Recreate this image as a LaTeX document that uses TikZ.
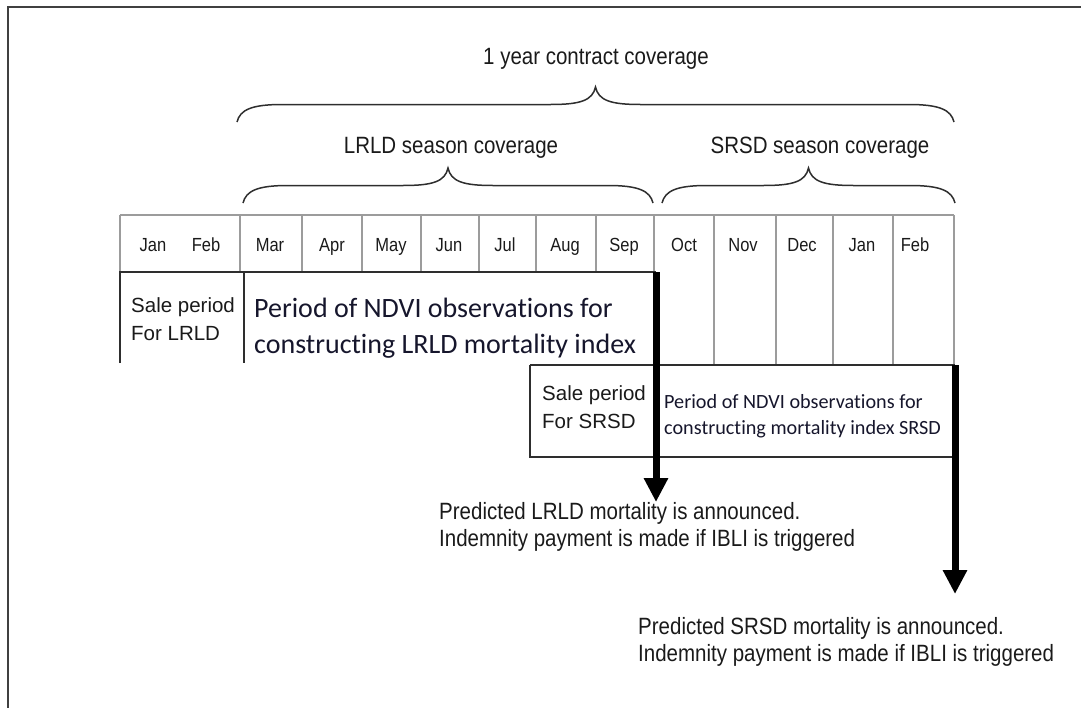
\documentclass[tikz,border=0pt]{standalone}
\usepackage{graphicx}
\usepackage{fontspec}
\setmainfont{Liberation Sans}
\newfontfamily\calfont[Ligatures=NoCommon]{Carlito}
\usetikzlibrary{arrows.meta}

\definecolor{ink}{HTML}{1A1A1A}
\definecolor{navyink}{HTML}{16162C}
\definecolor{gridgray}{HTML}{9C9C9C}
\definecolor{boxgray}{HTML}{2E2E2E}
\definecolor{framegray}{HTML}{404040}

% slightly condensed look of the label face
\newcommand\tall[1]{\scalebox{1}[1.15]{#1}}

% curly brace that opens downwards onto a span of months
\newcommand\coverbrace[4]{%
  \pgfmathsetmacro\bxm{(#1+#2)/2}%
  \pgfmathsetmacro\byf{(#3+#4)/2}%
  \draw[bracepen] (#1,#3) .. controls (#1+3,#3-12) and (#1+14,\byf) .. (#1+45,\byf)
    -- (\bxm-45,\byf) .. controls (\bxm-15,\byf) and (\bxm-3,\byf-4) .. (\bxm,#4)
    .. controls (\bxm+3,\byf-4) and (\bxm+15,\byf) .. (\bxm+45,\byf)
    -- (#2-45,\byf) .. controls (#2-14,\byf) and (#2-3,#3-12) .. (#2,#3);
}

\begin{document}
\begin{tikzpicture}[x=1pt,y=-1pt,
  framepen/.style={draw=framegray,line width=2.2pt},
  gridpen/.style={draw=gridgray,line width=1.1pt},
  boxpen/.style={draw=boxgray,line width=1.4pt},
  bracepen/.style={draw=boxgray,line width=1.5pt},
  bar/.style={draw=black,line width=7pt,-{Triangle[width=23pt,length=24pt]}},
  heading/.style={inner sep=0pt,anchor=base,text=ink,font=\fontsize{20.5}{24}\selectfont},
  month/.style={inner sep=0pt,anchor=base,text=ink,font=\fontsize{16.5}{20}\selectfont},
  sale/.style={inner sep=0pt,anchor=north west,align=left,text=ink,font=\fontsize{20.5}{28}\selectfont},
  ndvibig/.style={inner sep=0pt,anchor=north west,align=left,text=navyink,font=\calfont\fontsize{28}{36}\selectfont},
  ndvismall/.style={inner sep=0pt,anchor=north west,align=left,text=navyink,font=\calfont\fontsize{20.2}{26}\selectfont},
  note/.style={inner sep=0pt,anchor=north west,align=left,text=ink,font=\fontsize{20.5}{27}\selectfont}]
\useasboundingbox (0,0) rectangle (1081,707);

% outer frame (top and left edges)
\draw[framepen] (1082,7) -- (8,7) -- (8,708);

% coverage headings and braces
\node[heading] (year) at (596,64) {\tall{1 year contract coverage}};
\coverbrace{237}{954}{122}{87}
\node[heading] (lrldseason) at (451,153) {\tall{LRLD season coverage}};
\node[heading] (srsdseason) at (820,153) {\tall{SRSD season coverage}};
\coverbrace{243}{653}{203}{168}
\coverbrace{662}{955}{203}{168}

% month grid
\draw[gridpen] (120,215) -- (954,215);
\foreach \x in {120,240,302,362,421,479,536,596,654}
  \draw[gridpen] (\x,215) -- (\x,272);
\foreach \x in {714,776,833,893,954}
  \draw[gridpen] (\x,215) -- (\x,365);

\foreach \m/\x in {Jan/153,Feb/206,Mar/270,Apr/332,May/391,Jun/449,Jul/505,Aug/565,Sep/624,Oct/684,Nov/743,Dec/802,Jan/862,Feb/915}
  \node[month] at (\x,251) {\tall{\m}};

% LRLD boxes
\draw[boxpen] (120,363) -- (120,272) -- (656,272);
\draw[boxpen] (244,272) -- (244,363);
\node[sale] (lrldsale) at (131,297) {Sale period\\For LRLD};
\node[ndvibig] (lrldndvi) at (254,298) {Period of NDVI observations for\\constructing LRLD mortality index};

% SRSD boxes
\draw[boxpen] (530,365) -- (955,365);
\draw[boxpen] (530,365) -- (530,457) -- (955,457);
\node[sale] (srsdsale) at (542,385) {Sale period\\For SRSD};
\node[ndvismall] (srsdndvi) at (664,394) {Period of NDVI observations for\\constructing mortality index SRSD};

% announcements
\node[note] (lrldnote) at (439,502) {\tall{Predicted LRLD mortality is announced.}\\\tall{Indemnity payment is made if IBLI is triggered}};
\node[note] (srsdnote) at (638,617) {\tall{Predicted SRSD mortality is announced.}\\\tall{Indemnity payment is made if IBLI is triggered}};

% announcement arrows
\coordinate (b1top) at (656,272);
\coordinate (b2top) at (955,365);
\coordinate (b2end) at (955,594);
\draw[bar] (b1top) -- (b1top |- lrldnote.north);
\draw[bar] (b2top) -- (b2end);
\end{tikzpicture}
\end{document}
